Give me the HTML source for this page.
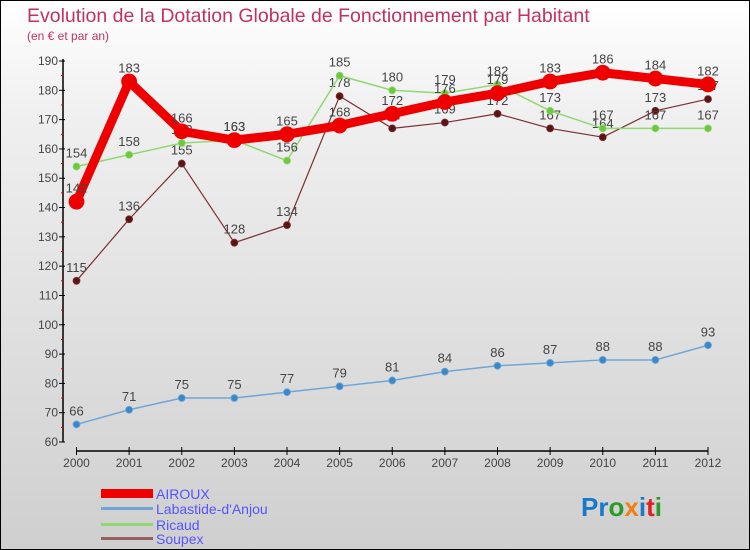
<!DOCTYPE html>
<html><head><meta charset="utf-8"><style>
body{margin:0}
#c{width:748px;height:548px;border:1px solid #000;background:linear-gradient(#fff,#f0f0f0 20%,#cfcfcf);position:relative;font-family:"Liberation Sans",sans-serif;overflow:hidden}
svg{position:absolute;left:0;top:0}
</style></head><body>
<div id="c">
<svg id="s" width="750" height="550">
<text x="26" y="21" font-size="19.5" fill="#c0335f">Evolution de la Dotation Globale de Fonctionnement par Habitant</text>
<text x="26" y="39" font-size="12" fill="#c0335f">(en € et par an)</text>
<g id="ax"></g><g id="ser"></g>
<g>
<rect x="100" y="488" width="52" height="9" fill="#e00"/>
<text x="155" y="498" font-size="14" fill="#55f">AIROUX</text>
<rect x="100" y="506" width="52" height="3" fill="#6fa6d6"/>
<text x="155" y="513" font-size="14" fill="#55f">Labastide-d'Anjou</text>
<rect x="100" y="522" width="52" height="3" fill="#8fd870"/>
<text x="155" y="529" font-size="14" fill="#55f">Ricaud</text>
<rect x="100" y="536" width="52" height="3" fill="#946060"/>
<text x="155" y="543" font-size="14" fill="#55f">Soupex</text>
</g>
<text x="580" y="515" font-size="26" font-weight="bold"><tspan fill="#1a78c8">Pr</tspan><tspan fill="#2a9a2a">o</tspan><tspan fill="#f08010">x</tspan><tspan fill="#1a78c8">i</tspan><tspan fill="#e02020">t</tspan><tspan fill="#2a9a2a">i</tspan></text>
</svg></div>
<script>
const years=[2000,2001,2002,2003,2004,2005,2006,2007,2008,2009,2010,2011,2012];
const airoux=[142,183,166,163,165,168,172,176,179,183,186,184,182];
const labastide=[66,71,75,75,77,79,81,84,86,87,88,88,93];
const ricaud=[154,158,162,163,156,185,180,179,182,173,167,167,167];
const soupex=[115,136,155,128,134,178,167,169,172,167,164,173,177];
const yTicks=[60,70,80,90,100,110,120,130,140,150,160,170,180,190];
const NS="http://www.w3.org/2000/svg";
const X=i=>75.5+i*(707-75.5)/12;
const Y=v=>441-(v-60)*(381/130);
function mk(t,a,p){const e=document.createElementNS(NS,t);for(const k in a)e.setAttribute(k,a[k]);p.appendChild(e);return e;}
const ax=document.getElementById('ax');
let l=mk('line',{x1:62,y1:58,x2:62,y2:441,stroke:'#000','stroke-width':1.5},ax);

l=mk('line',{x1:75.5,y1:450,x2:707,y2:450,stroke:'#000','stroke-width':1.5},ax);

yTicks.forEach(v=>{mk('line',{x1:58,x2:64,y1:Y(v),y2:Y(v),stroke:'#000'},ax);
 if(v<190)mk('line',{x1:60,x2:62,y1:Y(v+5),y2:Y(v+5),stroke:'#e00'},ax);
 const t=mk('text',{x:57,y:Y(v)+4,'font-size':12,fill:'#444','text-anchor':'end'},ax);t.textContent=v;
 });
years.forEach((y,i)=>{mk('line',{x1:X(i),x2:X(i),y1:446,y2:454,stroke:'#000'},ax);
 const t=mk('text',{x:X(i),y:466,'font-size':12,fill:'#444','text-anchor':'middle'},ax);t.textContent=y;
 });
const ser=document.getElementById('ser');
function draw(d,name,col,dot,w,r){const g=mk('g',{},ser);
 
 mk('polyline',{points:d.map((v,i)=>X(i)+','+Y(v)).join(' '),fill:'none',stroke:col,'stroke-width':w,'stroke-linejoin':'round'},g);
 d.forEach((v,i)=>{const c=mk('circle',{cx:X(i),cy:Y(v),r:r,fill:dot,stroke:col,'stroke-width':0.8},g);
  
  const t=mk('text',{x:X(i),y:Y(v)-9,'font-size':13,fill:'#444','text-anchor':'middle'},g);t.textContent=v;
  });}
draw(labastide,'labastide','#6fa6d6','#3b88c8',1.5,3.5);
draw(soupex,'soupex','#7a3030','#5a1414',1.2,3.5);
draw(ricaud,'ricaud','#8fd870','#6cc83c',1.5,3.5);
draw(airoux,'airoux','#e00','#e00',9,7.5);
</script>
</body></html>
